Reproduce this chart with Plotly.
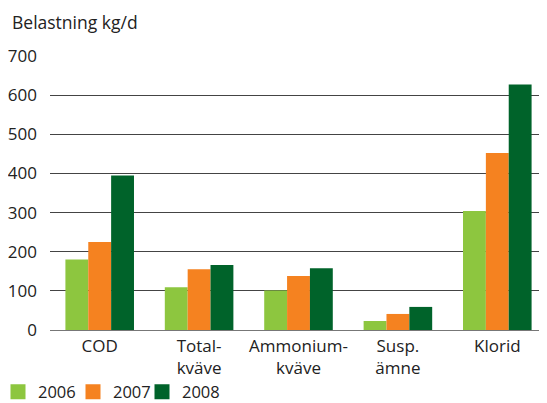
import plotly.graph_objects as go

categories = ["COD", "Total-<br>kväve", "Ammonium-<br>kväve", "Susp.<br>ämne", "Klorid"]
years = ["2006", "2007", "2008"]
v2006 = [180, 109, 101, 23, 304]
v2007 = [225, 155, 138, 41, 452]
v2008 = [395, 166, 158, 59, 627]
colors = ["#8dc63f", "#f58220", "#00632a"]
yticks = [0, 100, 200, 300, 400, 500, 600, 700]

# page body adds an 8px margin; the figure is sized/positioned to compensate
W, H = 539, 395
L, T, B = 42, 48, 73
plot_w = W - L
legend_origins = [-10, 65, 134]  # px from figure left

fig = go.Figure()
for name, vals, col in zip(years, [v2006, v2007, v2008], colors):
    fig.add_trace(go.Bar(x=categories, y=vals, name=name, showlegend=False,
                         marker=dict(color=col, line=dict(width=0))))
legend_ids = ["legend", "legend2", "legend3"]
for name, col, lid in zip(years, colors, legend_ids):
    fig.add_trace(go.Scatter(x=[None], y=[None], mode="markers", name=name, legend=lid,
                             marker=dict(symbol="square", size=15, color=col)))

font = "Open Sans, Noto Sans, sans-serif"
legend_cfg = {}
for lid, ox in zip(legend_ids, legend_origins):
    legend_cfg[lid] = dict(orientation="h", xref="paper", x=(ox - L) / plot_w, xanchor="left",
                           yref="container", y=1 - 384 / H, yanchor="middle",
                           font=dict(size=16.5), itemwidth=30, bgcolor="rgba(0,0,0,0)")

fig.update_layout(
    width=W, height=H,
    margin=dict(l=L, r=0, t=T, b=B, autoexpand=False),
    paper_bgcolor="white", plot_bgcolor="white",
    barmode="group", bargap=0.31, bargroupgap=0,
    font=dict(family=font, size=17, color="#222"),
    showlegend=True,
    annotations=[dict(text="Belastning kg/d", xref="x domain", yref="y domain",
                      x=0, xshift=-(L - 2), xanchor="left", y=1, yshift=T - 14, yanchor="middle",
                      showarrow=False, font=dict(size=17.5, color="#222"))],
    **legend_cfg,
)
fig.update_xaxes(showgrid=False, showline=False, ticks="", tickfont=dict(size=17), ticklabelstandoff=4)
fig.update_yaxes(range=[0, 700], tickvals=yticks, showgrid=True, gridcolor="#444", gridwidth=1,
                 zeroline=True, zerolinecolor="#777", zerolinewidth=1,
                 showline=False, ticks="", ticklabelstandoff=12, tickfont=dict(size=17))

fig.write_html("out.html")
